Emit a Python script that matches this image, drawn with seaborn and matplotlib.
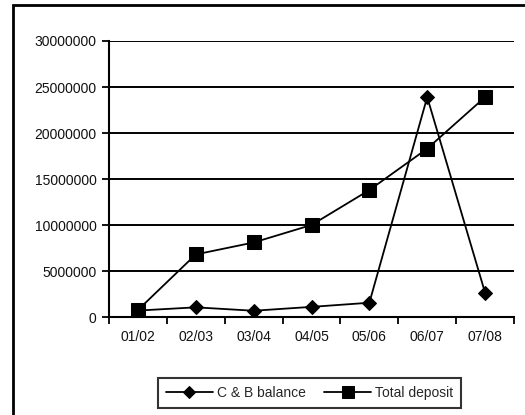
import matplotlib
matplotlib.use("Agg")
import matplotlib.pyplot as plt
from matplotlib.patches import Rectangle
from matplotlib.ticker import FixedLocator
import seaborn as sns
import pandas as pd

years = ["01/02", "02/03", "03/04", "04/05", "05/06", "06/07", "07/08"]
cb_balance = [700000, 1050000, 680000, 1100000, 1550000, 23900000, 2640000]
total_deposit = [760000, 6800000, 8100000, 10000000, 13800000, 18300000, 23900000]
series_names = ["C & B balance", "Total deposit"]
y_ticks = [0, 5000000, 10000000, 15000000, 20000000, 25000000, 30000000]

df = pd.DataFrame({
    "year": years * 2,
    "value": cb_balance + total_deposit,
    "series": [series_names[0]] * len(years) + [series_names[1]] * len(years),
})

sns.set_style("white")
plt.rcParams["font.family"] = ["Liberation Sans", "DejaVu Sans"]

fig = plt.figure(figsize=(5.25, 4.15), dpi=100)
ax = fig.add_axes([109 / 525, 1 - 317 / 415, 405 / 525, 276 / 415])

sns.lineplot(
    data=df, x="year", y="value", hue="series", style="series",
    markers={"C & B balance": "D", "Total deposit": "s"},
    dashes=False, palette=["black", "black"], linewidth=1.3,
    ax=ax, legend=False, sort=False,
)
for line, ms in zip(ax.lines, [7, 10]):
    line.set_markersize(ms)
    line.set_markeredgecolor("black")
    line.set_markerfacecolor("black")

ax.set_xlim(-0.5, len(years) - 0.5)
ax.set_ylim(0, 30000000)
ax.set_yticks(y_ticks)
ax.set_yticklabels([str(v) for v in y_ticks], fontsize=10, color="#111111")
ax.set_xticks(range(len(years)))
ax.set_xticklabels(years, fontsize=10, color="#111111")
ax.xaxis.set_minor_locator(FixedLocator([i + 0.5 for i in range(-1, len(years))]))
ax.tick_params(axis="x", which="major", length=0, pad=9)
ax.tick_params(axis="x", which="minor", length=5, width=1.3, color="black", bottom=True, direction="out")
ax.tick_params(axis="y", which="major", length=5, width=1.3, color="black", left=True, direction="out", pad=4)
ax.set_xlabel("")
ax.set_ylabel("")
ax.grid(axis="y", color="black", linewidth=1.4)
ax.set_axisbelow(True)
for side in ["top", "right"]:
    ax.spines[side].set_visible(False)
for side in ["left", "bottom"]:
    ax.spines[side].set_color("black")
    ax.spines[side].set_linewidth(1.5)

handles = ax.lines[:2]
leg = fig.legend(
    handles, series_names, loc="center", bbox_to_anchor=(309.5 / 525, 1 - 393 / 415),
    ncol=2, fontsize=10, frameon=True, fancybox=False, handlelength=3.4,
    columnspacing=1.3, handletextpad=0.3, borderpad=0.55,
)
leg.get_frame().set_edgecolor("black")
leg.get_frame().set_linewidth(1.5)
for h, ms in zip(leg.legend_handles, [6, 8]):
    h.set_markersize(ms)

fig.patches.append(Rectangle((13 / 525, -0.2), 1.2, 1.2 - 5 / 415, transform=fig.transFigure,
                             fill=False, edgecolor="black", linewidth=2))

fig.savefig("out.png", dpi=100)
